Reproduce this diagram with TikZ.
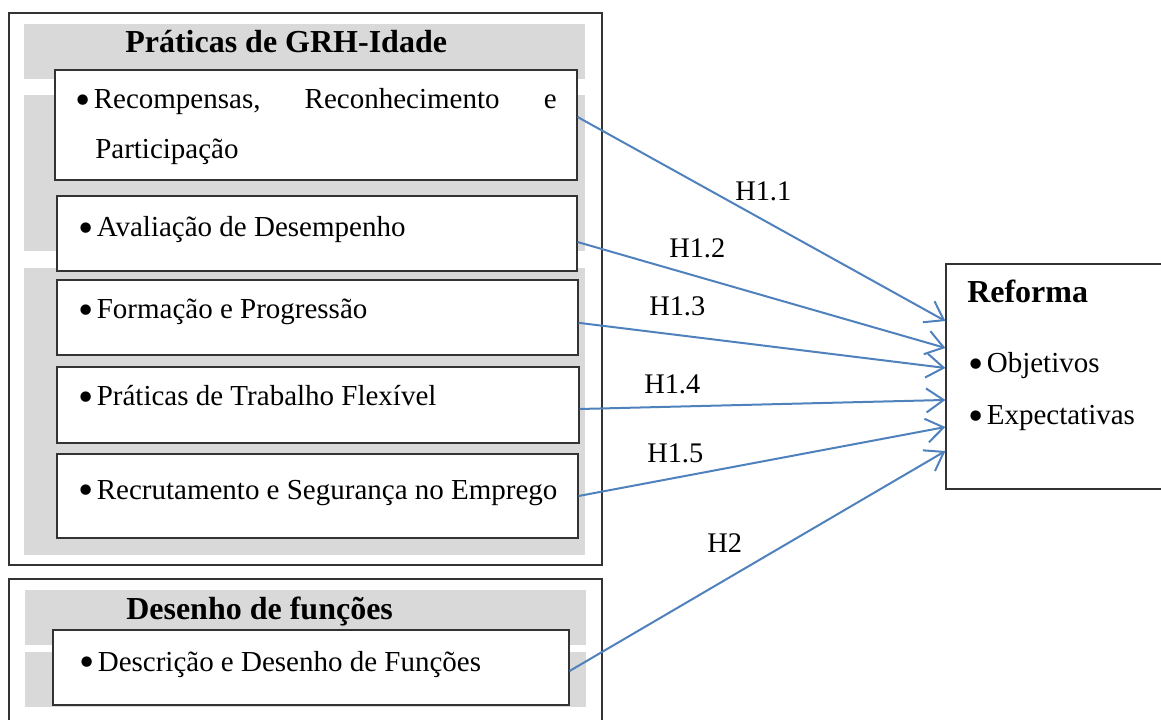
\documentclass[tikz,border=0pt]{standalone}
\usepackage{fontspec}
\setmainfont{Liberation Serif}
\usetikzlibrary{fit,arrows.meta}
\definecolor{bandgray}{RGB}{217,217,217}
\definecolor{hypblue}{RGB}{79,129,189}
\tikzset{
  frame/.style={draw=black!80, line width=0.9pt, inner sep=0pt},
  itembox/.style={draw=black!80, fill=white, line width=0.9pt, inner sep=0pt},
  hyp/.style={draw=hypblue, line width=1.5pt, -{Straight Barb[length=13pt,width=18pt,line width=1.5pt]}},
  txt/.style={anchor=base west, inner sep=0.75pt, font=\fontsize{21.75}{26}\selectfont},
  ttl/.style={anchor=base west, inner sep=0.75pt, font=\fontsize{24}{28}\selectfont\bfseries},
  hlbl/.style={anchor=base west, inner sep=0.75pt, font=\fontsize{21.3}{25}\selectfont}
}
\newcommand{\bul}{\raisebox{-0.19em}{\scalebox{1.5}{\textbullet}}\hspace{2.5pt}}
\begin{document}
\begin{tikzpicture}[x=0.75pt,y=0.75pt,yscale=-1,xscale=1]
\useasboundingbox (0,0) rectangle (1161,720);
% Praticas de GRH-Idade
\node (grh) [frame, fit={(9,13) (602,565)}] {};
\fill [bandgray] (24,24) rectangle (585,79);
\fill [bandgray] (24,95) rectangle (585,251);
\fill [bandgray] (24,268) rectangle (585,555);
\draw (124,53) node (grhttl) [ttl] {Práticas de GRH-Idade};
\node (recomp) [itembox, fit={(55,70) (577,180)}] {};
\node (aval) [itembox, fit={(57,196) (577,271)}] {};
\node (form) [itembox, fit={(57,280) (578,355)}] {};
\node (flex) [itembox, fit={(57,367) (579,443)}] {};
\node (recrut) [itembox, fit={(57,454) (578,538)}] {};
\draw (74,109) node (recompa) [txt] {\makebox[361pt][l]{\bul Recompensas,\hfill Reconhecimento\hfill e}};
\draw (94,159) node (recompb) [txt] {Participação};
\draw (77,237) node (avalt) [txt] {\bul Avaliação de Desempenho};
\draw (77,319) node (formt) [txt] {\bul Formação e Progressão};
\draw (77,406) node (flext) [txt] {\bul Práticas de Trabalho Flexível};
\draw (77,499) node (recrutt) [txt] {\bul Recrutamento e Segurança no Emprego};
% Desenho de funcoes
\node (desf) [frame, fit={(9,579) (602,722)}] {};
\fill [bandgray] (25,590) rectangle (586,645);
\fill [bandgray] (25,652) rectangle (586,707);
\draw (125,619) node (desfttl) [ttl] {Desenho de funções};
\node (descr) [itembox, fit={(53,630) (569,705)}] {};
\draw (78,671) node (descrt) [txt] {\bul Descrição e Desenho de Funções};
% Reforma
\node (reforma) [frame, fit={(946,264) (1163,489)}] {};
\draw (966,303) node (reft) [ttl] {Reforma};
\draw (967,373) node (objt) [txt] {\bul Objetivos};
\draw (967,425) node (expt) [txt] {\bul Expectativas};
% hipoteses
\draw [hyp] ([yshift=-6pt]recomp.east) -- ([yshift=-41.6pt]reforma.west);
\draw [hyp] ([yshift=6.4pt]aval.east) -- ([yshift=-21.4pt]reforma.west);
\draw [hyp] ([yshift=4pt]form.east) -- ([yshift=-6.4pt]reforma.west);
\draw [hyp] ([yshift=3pt]flex.east) -- ([yshift=17.6pt]reforma.west);
\draw [hyp] (recrut.east) -- ([yshift=37.9pt]reforma.west);
\draw [hyp] ([yshift=2.6pt]descr.east) -- ([yshift=55.9pt]reforma.west);
\draw (734,201) node (h11) [hlbl] {H1.1};
\draw (668,258) node (h12) [hlbl] {H1.2};
\draw (648,316) node (h13) [hlbl] {H1.3};
\draw (643,394) node (h14) [hlbl] {H1.4};
\draw (646,462) node (h15) [hlbl] {H1.5};
\draw (706,552) node (h2) [hlbl] {H2};
\end{tikzpicture}
\end{document}
